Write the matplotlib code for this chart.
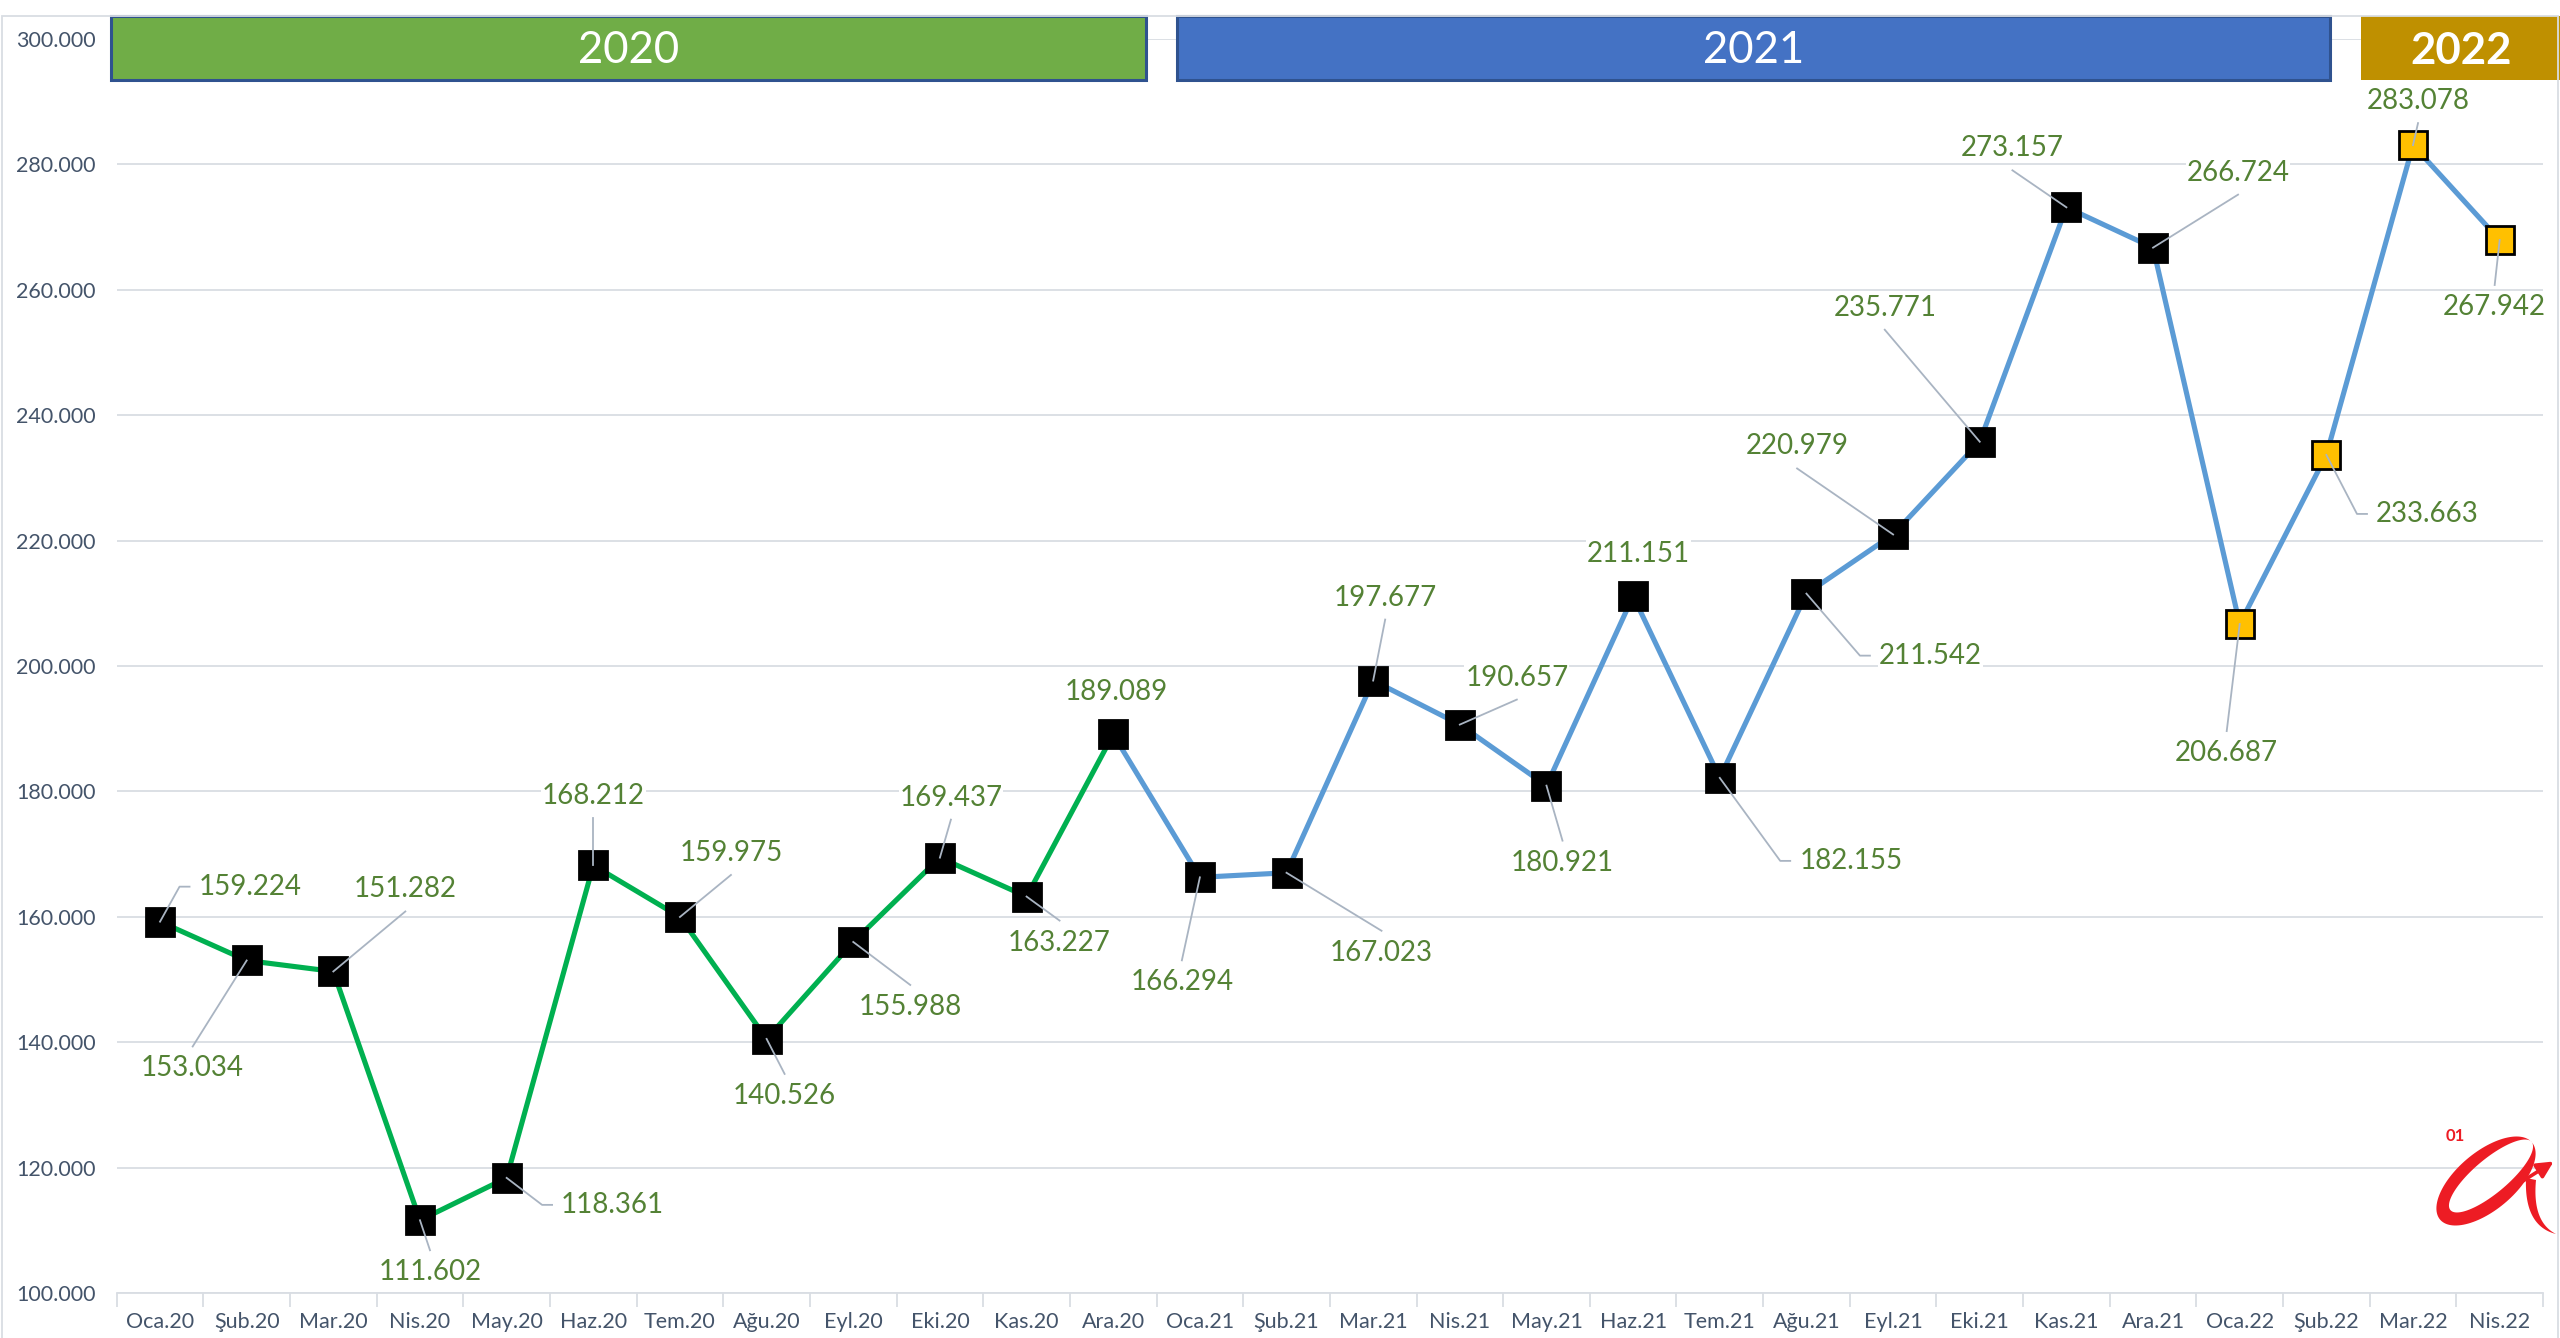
import matplotlib
matplotlib.use("Agg")
import matplotlib.pyplot as plt
import matplotlib.patches as mpatches
from matplotlib.path import Path
from matplotlib.transforms import blended_transform_factory
from matplotlib.ticker import FuncFormatter, FixedLocator
from matplotlib.lines import Line2D
import numpy as np

plt.rcParams['font.family'] = ['Lato', 'DejaVu Sans']

# ---------------- data ----------------
months = ["Oca.20", "Şub.20", "Mar.20", "Nis.20", "May.20", "Haz.20", "Tem.20",
          "Ağu.20", "Eyl.20", "Eki.20", "Kas.20", "Ara.20",
          "Oca.21", "Şub.21", "Mar.21", "Nis.21", "May.21", "Haz.21", "Tem.21",
          "Ağu.21", "Eyl.21", "Eki.21", "Kas.21", "Ara.21",
          "Oca.22", "Şub.22", "Mar.22", "Nis.22"]
values = [159224, 153034, 151282, 111602, 118361, 168212, 159975, 140526,
          155988, 169437, 163227, 189089,
          166294, 167023, 197677, 190657, 180921, 211151, 182155, 211542,
          220979, 235771, 273157, 266724,
          206687, 233663, 283078, 267942]
years = ["2020", "2021", "2022"]
y_ticks = [100000, 120000, 140000, 160000, 180000, 200000, 220000,
           240000, 260000, 280000, 300000]

# ---------------- layout / style ----------------
W, H = 2560, 1338
fig = plt.figure(figsize=(W / 100, H / 100), dpi=100)
ax_left, ax_right, ax_top, ax_bottom = 116.7, 2543, 39, 1293
ax = fig.add_axes([ax_left / W, 1 - ax_bottom / H,
                   (ax_right - ax_left) / W, (ax_bottom - ax_top) / H])

x = np.arange(len(months))
ax.set_xlim(-0.5, len(months) - 0.5)
ax.set_ylim(100000, 300000)

green_line = "#00B050"
blue_line = "#5B9BD5"
gold = "#FFC000"
label_green = "#548235"
tick_color = "#44546A"
grid_color = "#D9DDE3"
leader_color = "#A9B4C2"

# lines
ax.plot(x[:12], values[:12], color=green_line, lw=3.7, zorder=3, solid_capstyle='round')
ax.plot(x[11:], values[11:], color=blue_line, lw=3.7, zorder=3, solid_capstyle='round')

# markers
face = ["black"] * 24 + [gold] * 4
for i in range(len(months)):
    ax.plot(x[i], values[i], marker='s', markersize=19.5, markerfacecolor=face[i],
            markeredgecolor='black', markeredgewidth=2, zorder=4, linestyle='none')

# axes styling
ax.yaxis.set_major_locator(FixedLocator(y_ticks))
ax.yaxis.set_major_formatter(FuncFormatter(lambda v, p: f"{v/1000:.3f}"))
ax.grid(axis='y', color=grid_color, lw=1.3, zorder=0)
ax.set_axisbelow(True)
ax.set_xticks(x)
ax.set_xticklabels(months)
ax.set_xticks(np.arange(-0.5, len(months)), minor=True)
ax.tick_params(axis='x', which='major', length=0, pad=14, labelsize=15.5, labelcolor=tick_color)
ax.tick_params(axis='x', which='minor', length=10, width=1.3, color=grid_color)
ax.tick_params(axis='y', length=0, pad=15, labelsize=15.5, labelcolor=tick_color)
for s in ['top', 'left', 'right']:
    ax.spines[s].set_visible(False)
ax.spines['bottom'].set_color(grid_color)
ax.spines['bottom'].set_linewidth(1.3)

# year banners (x in data coords, y in axes fraction)
trans = blended_transform_factory(ax.transData, ax.transAxes)
banner_spans = [(-0.565, 11.38), (11.74, 25.04), (25.40, 27.75)]
banner_colors = ["#70AD47", "#4472C4", "#BF9000"]
banner_edges = ["#2F528F", "#2F528F", "none"]
banner_weights = ["normal", "normal", "bold"]
b_y0, b_y1 = 0.9673, 1.0183
for (x0, x1), yr, fc, ec, fw in zip(banner_spans, years, banner_colors, banner_edges, banner_weights):
    r = mpatches.Rectangle((x0, b_y0), x1 - x0, b_y1 - b_y0, transform=trans,
                           facecolor=fc, edgecolor=ec, lw=2.2, clip_on=False, zorder=5)
    ax.add_patch(r)
    cx = (x0 + min(x1, 27.7)) / 2
    ax.text(cx, (b_y0 + b_y1) / 2 - 0.002, yr, transform=trans, ha='center', va='center',
            color='white', fontsize=31.5, fontweight=fw, zorder=6, clip_on=False)

# data labels: offsets in pixels (right, down)
label_offsets = [(90, -35), (-54, 108), (72, -82), (10, 52), (106, 27), (0, -69),
                 (51, -64), (18, 57), (57, 65), (11, -60), (33, 46), (3, -42),
                 (-18, 105), (95, 80), (12, -83), (57, -47), (16, 77), (5, -42),
                 (131, 83), (124, 62), (-96, -88), (-95, -134), (-54, -59), (85, -75),
                 (-13, 129), (101, 59), (5, -44), (-5, 67)]

texts = []
for i, v in enumerate(values):
    dx, dy = label_offsets[i]
    s = f"{v/1000:.3f}"
    t = ax.annotate(s, (x[i], v), xytext=(dx, -dy), textcoords='offset pixels',
                    ha='center', va='center', fontsize=20, color=label_green, zorder=7,
                    bbox=dict(facecolor='white', edgecolor='none', pad=0.5),
                    annotation_clip=False)
    texts.append(t)

# chart border (light)
border = mpatches.Rectangle((1.5 / W, -0.1), (W - 4) / W, 1 - 16 / H + 0.1,
                            transform=fig.transFigure, facecolor='none',
                            edgecolor=grid_color, lw=1.3, zorder=0)
fig.patches.append(border)

# leader lines
fig.canvas.draw()
renderer = fig.canvas.get_renderer()
inv = ax.transData.inverted()
for i, t in enumerate(texts):
    bb = t.get_window_extent(renderer)
    px, py = ax.transData.transform((x[i], values[i]))
    x0, x1, y0, y1 = bb.x0, bb.x1, bb.y0, bb.y1
    gx = max(x0 - px, px - x1, 0)
    gy = max(y0 - py, py - y1, 0)
    if max(gx, gy) < 30:
        continue
    gap = 9
    if gx > gy:
        cy = (y0 + y1) / 2
        if px < x0:
            ex = x0 - gap
            sx = ex - 10
        else:
            ex = x1 + gap
            sx = ex + 10
        pts = [(px, py), (sx, cy), (ex, cy)]
    else:
        cx = (x0 + x1) / 2
        ey = y0 - gap if py < y0 else y1 + gap
        pts = [(px, py), (cx, ey)]
    dpts = inv.transform(pts)
    ax.add_line(Line2D(dpts[:, 0], dpts[:, 1], color=leader_color, lw=1.3,
                       zorder=5, clip_on=False))

# logo (approximate drawing, image-pixel coordinates)
lax = fig.add_axes([2420 / W, 1 - 1245 / H, 140 / W, 130 / H])
lax.set_xlim(2420, 2560)
lax.set_ylim(1245, 1115)
lax.axis('off')
red = "#ED1C24"


def ellipse_pts(c, a, b, theta_deg, n=120, reverse=False):
    th = np.deg2rad(theta_deg)
    u = np.array([np.cos(th), -np.sin(th)])
    v = np.array([np.sin(th), np.cos(th)])
    t = np.linspace(0, 2 * np.pi, n)
    if reverse:
        t = t[::-1]
    return np.array(c) + np.outer(a * np.cos(t), u) + np.outer(b * np.sin(t), v)


outer = ellipse_pts((2486, 1181), 60, 29, 40)
inner = ellipse_pts((2491, 1176), 53, 17, 40, reverse=True)
verts = np.vstack([outer, outer[:1], inner, inner[:1]])
codes = ([Path.MOVETO] + [Path.LINETO] * (len(outer) - 1) + [Path.CLOSEPOLY] +
         [Path.MOVETO] + [Path.LINETO] * (len(inner) - 1) + [Path.CLOSEPOLY])
lax.add_patch(mpatches.PathPatch(Path(verts, codes), facecolor=red, edgecolor='none'))
# tail
s = np.linspace(0, 1, 30)
def qbez(p0, p1, p2):
    p0, p1, p2 = map(np.array, (p0, p1, p2))
    return (np.outer((1 - s) ** 2, p0) + np.outer(2 * (1 - s) * s, p1) + np.outer(s ** 2, p2))
left_edge = qbez((2526, 1178), (2524, 1226), (2556, 1234))
right_edge = qbez((2536, 1180), (2532, 1222), (2556, 1234))
tail = np.vstack([left_edge, right_edge[::-1]])
lax.add_patch(mpatches.Polygon(tail, closed=True, facecolor=red, edgecolor='none'))
# arrow
lax.add_patch(mpatches.FancyArrowPatch((2474, 1212), (2556, 1160),
                                       arrowstyle='-|>,head_length=0.7,head_width=0.35',
                                       mutation_scale=14, color=red, lw=2.6))
lax.text(2455, 1136, "01", color=red, fontsize=12, fontweight='bold',
         ha='center', va='center')

fig.savefig("out.png", dpi=100, facecolor='white')
